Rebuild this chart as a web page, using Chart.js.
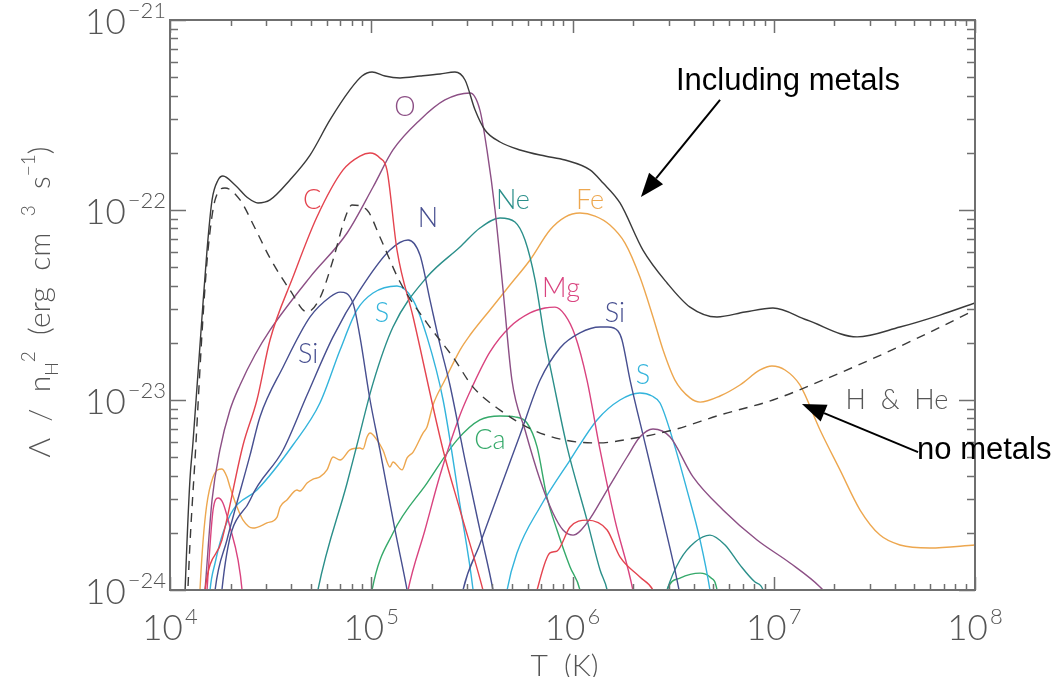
<!DOCTYPE html>
<html>
<head>
<meta charset="utf-8">
<script src="https://cdn.jsdelivr.net/npm/chart.js@4.4.1/dist/chart.umd.min.js"></script>
<style>
  html, body { margin: 0; padding: 0; background: #fff; }
  canvas { display: block; }
</style>
</head>
<body>
<canvas id="cooling" width="1057" height="677"></canvas>
<script>
// ── cooling rates, log10 T (K) against log10 Λ/nH² (erg cm³ s⁻¹) ──

const TOT_T = [4.065, 4.075, 4.099, 4.114, 4.159, 4.184, 4.209, 4.239, 4.263, 4.323, 4.388, 4.437, 4.497, 4.596, 4.696, 4.795, 4.894, 4.954, 5.004, 5.068, 5.143, 5.242, 5.342, 5.416, 5.466, 5.516, 5.565, 5.640, 5.739, 5.863, 5.963, 6.087, 6.152, 6.236, 6.350, 6.470, 6.584, 6.718, 6.857, 6.996, 7.165, 7.414, 7.627, 7.826, 8.0];
const TOT_L = [-24.316, -24.0, -23.421, -23.226, -22.563, -22.211, -21.947, -21.842, -21.821, -21.868, -21.937, -21.963, -21.947, -21.842, -21.711, -21.526, -21.368, -21.295, -21.274, -21.295, -21.305, -21.295, -21.284, -21.274, -21.316, -21.474, -21.579, -21.642, -21.684, -21.716, -21.737, -21.789, -21.858, -21.963, -22.211, -22.384, -22.511, -22.563, -22.537, -22.516, -22.579, -22.668, -22.616, -22.553, -22.489];

const HHE_T = [4.080, 4.089, 4.129, 4.164, 4.189, 4.224, 4.273, 4.348, 4.422, 4.497, 4.596, 4.681, 4.745, 4.810, 4.870, 4.904, 4.979, 5.043, 5.143, 5.277, 5.406, 5.506, 5.640, 5.804, 5.963, 6.122, 6.311, 6.499, 6.733, 6.996, 7.245, 7.478, 7.727, 8.0];
const HHE_L = [-24.316, -24.0, -23.226, -22.563, -22.211, -21.947, -21.884, -21.947, -22.095, -22.253, -22.421, -22.537, -22.463, -22.263, -22.042, -21.974, -22.0, -22.142, -22.379, -22.595, -22.774, -22.932, -23.053, -23.158, -23.211, -23.226, -23.2, -23.158, -23.079, -23.0, -22.895, -22.789, -22.668, -22.526];

const C_T = [4.149, 4.174, 4.258, 4.363, 4.432, 4.497, 4.611, 4.730, 4.860, 4.944, 4.994, 5.043, 5.078, 5.128, 5.208, 5.357, 5.441, 5.555, 5.590];
const C_L = [-24.316, -24.0, -23.737, -23.237, -23.0, -22.684, -22.353, -22.037, -21.789, -21.716, -21.700, -21.726, -21.789, -22.211, -22.563, -23.263, -23.579, -24.0, -24.158];
const C_HI_T = [5.789, 5.824, 5.888, 5.923, 5.988, 6.072, 6.172, 6.236, 6.335, 6.400, 6.435];
const C_HI_L = [-24.158, -24.0, -23.805, -23.795, -23.668, -23.632, -23.684, -23.826, -23.932, -24.0, -24.105];

const O_T = [4.149, 4.174, 4.209, 4.248, 4.298, 4.348, 4.422, 4.497, 4.696, 4.880, 5.009, 5.108, 5.242, 5.366, 5.491, 5.540, 5.575, 5.615, 5.655, 5.699, 5.764, 5.839, 5.903, 5.953, 6.003, 6.072, 6.172, 6.271, 6.335, 6.400, 6.485, 6.599, 6.748, 6.917, 7.081, 7.230, 7.329];
const O_L = [-24.316, -24.0, -23.526, -23.263, -23.053, -22.921, -22.763, -22.632, -22.353, -22.121, -21.879, -21.684, -21.526, -21.421, -21.384, -21.474, -21.684, -22.0, -22.421, -22.895, -23.158, -23.421, -23.595, -23.684, -23.711, -23.647, -23.474, -23.3, -23.195, -23.153, -23.195, -23.405, -23.579, -23.737, -23.858, -23.984, -24.105];

const N_T = [4.239, 4.258, 4.398, 4.562, 4.681, 4.810, 4.944, 5.093, 5.183, 5.242, 5.292, 5.342, 5.391, 5.466, 5.540, 5.605, 5.630];
const N_L = [-24.316, -24.0, -23.526, -23.263, -22.974, -22.668, -22.421, -22.211, -22.158, -22.237, -22.474, -22.711, -22.921, -23.316, -23.684, -24.0, -24.158];

const SI_LO_T = [4.199, 4.224, 4.283, 4.398, 4.447, 4.562, 4.696, 4.795, 4.845, 4.909, 4.944, 4.994, 5.043, 5.118, 5.178, 5.203];
const SI_LO_L = [-24.316, -24.0, -23.737, -23.289, -23.089, -22.826, -22.563, -22.458, -22.432, -22.489, -22.668, -23.0, -23.263, -23.684, -24.0, -24.158];
const SI_HI_T = [5.431, 5.456, 5.540, 5.640, 5.739, 5.839, 5.938, 6.037, 6.137, 6.176, 6.226, 6.246, 6.286, 6.360, 6.435, 6.509, 6.559];
const SI_HI_L = [-24.158, -24.0, -23.758, -23.468, -23.184, -22.895, -22.726, -22.647, -22.616, -22.616, -22.637, -22.684, -22.895, -23.226, -23.558, -23.895, -24.158];

const NE_T = [4.711, 4.735, 4.880, 4.929, 5.009, 5.108, 5.277, 5.441, 5.540, 5.640, 5.714, 5.764, 5.814, 5.863, 5.903, 5.973, 6.072, 6.137, 6.172, 6.196];
const NE_L = [-24.158, -24.0, -23.437, -23.237, -22.911, -22.616, -22.353, -22.195, -22.095, -22.042, -22.063, -22.158, -22.368, -22.684, -22.895, -23.247, -23.632, -23.895, -24.0, -24.158];
const NE_HI_T = [6.435, 6.470, 6.534, 6.609, 6.683, 6.758, 6.832, 6.907, 6.947, 6.971];
const NE_HI_L = [-24.158, -24.0, -23.842, -23.747, -23.711, -23.763, -23.868, -23.958, -24.0, -24.158];

const FE_T = [4.139, 4.149, 4.214, 4.258, 4.283, 4.298, 4.333, 4.363, 4.412, 4.482, 4.532, 4.547, 4.581, 4.631, 4.646, 4.681, 4.711, 4.745, 4.780, 4.810, 4.845, 4.894, 4.944, 4.959, 4.979, 4.994, 5.029, 5.058, 5.093, 5.108, 5.153, 5.178, 5.208, 5.257, 5.277, 5.307, 5.366, 5.441, 5.491, 5.590, 5.689, 5.789, 5.888, 5.963, 6.037, 6.112, 6.186, 6.261, 6.335, 6.400, 6.450, 6.509, 6.584, 6.634, 6.733, 6.832, 6.932, 6.991, 7.056, 7.130, 7.230, 7.329, 7.429, 7.528, 7.627, 7.776, 8.0];
const FE_L = [-24.316, -24.0, -23.405, -23.363, -23.405, -23.458, -23.563, -23.632, -23.674, -23.647, -23.616, -23.563, -23.526, -23.474, -23.479, -23.437, -23.416, -23.405, -23.368, -23.3, -23.316, -23.263, -23.253, -23.258, -23.195, -23.174, -23.211, -23.263, -23.353, -23.326, -23.368, -23.305, -23.274, -23.174, -23.142, -23.026, -22.895, -22.737, -22.658, -22.526, -22.395, -22.263, -22.105, -22.037, -22.016, -22.032, -22.079, -22.174, -22.353, -22.563, -22.737, -22.895, -22.989, -23.011, -22.979, -22.921, -22.842, -22.821, -22.842, -22.921, -23.158, -23.368, -23.579, -23.711, -23.763, -23.779, -23.763];

const MG_T = [5.158, 5.183, 5.267, 5.342, 5.441, 5.506, 5.590, 5.689, 5.789, 5.863, 5.913, 5.963, 6.012, 6.072, 6.137, 6.211, 6.300, 6.325];
const MG_L = [-24.158, -24.0, -23.684, -23.395, -23.079, -22.921, -22.747, -22.616, -22.542, -22.516, -22.511, -22.553, -22.658, -22.895, -23.263, -23.632, -24.0, -24.158];
const MG_LO_T = [4.174, 4.184, 4.214, 4.239, 4.263, 4.298, 4.338, 4.358, 4.368];
const MG_LO_L = [-24.158, -24.0, -23.579, -23.516, -23.542, -23.668, -23.842, -24.0, -24.158];

const S_LO_T = [4.189, 4.199, 4.224, 4.263, 4.313, 4.432, 4.611, 4.745, 4.845, 4.929, 5.009, 5.128, 5.208, 5.277, 5.357, 5.441, 5.506, 5.521];
const S_LO_L = [-24.158, -24.0, -23.858, -23.700, -23.579, -23.474, -23.237, -23.016, -22.737, -22.526, -22.437, -22.400, -22.474, -22.668, -23.0, -23.553, -24.0, -24.158];
const S_HI_T = [5.655, 5.675, 5.724, 5.839, 5.988, 6.122, 6.236, 6.335, 6.395, 6.435, 6.499, 6.569, 6.634, 6.683, 6.703];
const S_HI_L = [-24.158, -24.0, -23.805, -23.563, -23.316, -23.105, -23.0, -22.963, -22.979, -23.016, -23.211, -23.474, -23.737, -24.0, -24.158];

const CA_T = [4.984, 5.004, 5.108, 5.277, 5.426, 5.540, 5.640, 5.714, 5.774, 5.824, 5.873, 5.923, 5.988, 6.037, 6.062];
const CA_L = [-24.158, -24.0, -23.700, -23.437, -23.211, -23.105, -23.084, -23.089, -23.121, -23.247, -23.511, -23.684, -23.879, -24.0, -24.158];
const CA_HI_T = [6.445, 6.470, 6.534, 6.634, 6.683, 6.718, 6.733];
const CA_HI_L = [-24.158, -24.0, -23.937, -23.911, -23.932, -24.0, -24.158];

// axis decades
const X_DECADES = [4, 5, 6, 7, 8];
const Y_DECADES = [-24, -23, -22, -21];

// element names placed next to their curves (log T, log Λ)
const TAGS = ['O', 'C', 'N', 'Ne', 'Fe', 'Mg', 'Si', 'Si', 'S', 'S', 'Ca', 'H  &  He'];
const TAG_T = [5.168, 4.706, 5.282, 5.704, 6.087, 5.943, 6.211, 4.686, 5.053, 6.350, 5.590, 7.612];
const TAG_L = [-21.458, -21.947, -22.042, -21.947, -21.947, -22.411, -22.542, -22.758, -22.542, -22.868, -23.211, -23.0];

// ── colours ──
const INK = '#3a3a3a';
const AXIS = '#6f6f6f';
const TXT = '#555555';
const RED = '#e4444f';
const PURPLE = '#8c4f85';
const NAVY = '#474f90';
const TEAL = '#2b8f8a';
const ORANGE = '#eda74f';
const PINK = '#d9437f';
const CYAN = '#33b4dc';
const GREEN = '#35a96a';
const TAG_COL = [PURPLE, RED, NAVY, TEAL, ORANGE, PINK, NAVY, NAVY, CYAN, CYAN, GREEN, TXT];

const THIN = '"Lato", "Liberation Sans", sans-serif';
const ARIAL = '"Liberation Sans", Arial, sans-serif';

function curve(T, L, color, dash) {
  return {
    data: T.map((t, i) => ({ x: Math.pow(10, t), y: Math.pow(10, L[i]) })),
    borderColor: color,
    borderWidth: 1.4,
    borderDash: dash || [],
    pointRadius: 0,
    fill: false,
    cubicInterpolationMode: 'monotone'
  };
}

// superscript helper: "10" followed by a raised exponent
function power(ctx, exp, x, y, align) {
  ctx.font = '300 35px ' + THIN;
  const wb = ctx.measureText('10').width;
  ctx.font = '300 22px ' + THIN;
  const we = ctx.measureText(exp).width;
  const total = wb + 2 + we;
  let left = align === 'right' ? x - total : x - total / 2;
  ctx.textAlign = 'left';
  ctx.textBaseline = 'alphabetic';
  ctx.font = '300 35px ' + THIN;
  ctx.fillText('10', left, y);
  ctx.font = '300 22px ' + THIN;
  ctx.fillText(exp, left + wb + 2, y - 16);
}

function arrow(ctx, x0, y0, x1, y1) {
  const ang = Math.atan2(y1 - y0, x1 - x0);
  const hl = 24, hw = 9;
  const bx = x1 - hl * Math.cos(ang), by = y1 - hl * Math.sin(ang);
  ctx.beginPath();
  ctx.moveTo(x0, y0);
  ctx.lineTo(bx, by);
  ctx.stroke();
  ctx.beginPath();
  ctx.moveTo(x1, y1);
  ctx.lineTo(bx + hw * Math.sin(ang), by - hw * Math.cos(ang));
  ctx.lineTo(bx - hw * Math.sin(ang), by + hw * Math.cos(ang));
  ctx.closePath();
  ctx.fill();
}

const frame = {
  id: 'frame',
  afterDatasetsDraw(chart) {
    const { ctx, chartArea: a, scales: { x, y } } = chart;
    const px = v => x.getPixelForValue(Math.pow(10, v));
    const py = v => y.getPixelForValue(Math.pow(10, v));
    ctx.save();

    // box
    ctx.strokeStyle = AXIS;
    ctx.lineWidth = 2;
    ctx.strokeRect(a.left, a.top, a.right - a.left, a.bottom - a.top);

    // inward ticks on all four sides
    ctx.lineWidth = 1.5;
    ctx.beginPath();
    X_DECADES.forEach((d, i) => {
      for (let k = 1; k < 10; k++) {
        if (k > 1 && i === X_DECADES.length - 1) break;
        const xp = Math.round(x.getPixelForValue(k * Math.pow(10, d))) + 0.5;
        const len = k === 1 ? 13 : 6;
        ctx.moveTo(xp, a.bottom); ctx.lineTo(xp, a.bottom - len);
        ctx.moveTo(xp, a.top); ctx.lineTo(xp, a.top + len);
      }
    });
    Y_DECADES.forEach((d, i) => {
      for (let k = 1; k < 10; k++) {
        if (k > 1 && i === Y_DECADES.length - 1) break;
        const yp = Math.round(y.getPixelForValue(k * Math.pow(10, d))) + 0.5;
        const len = k === 1 ? 16 : 8;
        ctx.moveTo(a.left, yp); ctx.lineTo(a.left + len, yp);
        ctx.moveTo(a.right, yp); ctx.lineTo(a.right - len, yp);
      }
    });
    ctx.stroke();

    // tick labels
    ctx.fillStyle = TXT;
    X_DECADES.forEach(d => power(ctx, String(d), px(d), a.bottom + 50, 'center'));
    Y_DECADES.forEach(d => power(ctx, '\u2212' + String(-d), a.left - 4, py(d) + 14, 'right'));

    // axis titles
    ctx.textAlign = 'center';
    ctx.textBaseline = 'top';
    ctx.font = '300 30px ' + THIN;
    ctx.fillText('T  (K)', (a.left + a.right) / 2 - 8, a.bottom + 61);

    const parts = [
      ['\u039B  /  n', 30, 0], ['H', 18, 8], ['2', 19, -15], ['  (erg  cm  ', 30, 0],
      ['3', 19, -15], ['  s', 30, 0], ['\u22121', 19, -15], [')', 30, 0]
    ];
    let w = 0;
    parts.forEach(p => { ctx.font = '300 ' + p[1] + 'px ' + THIN; w += ctx.measureText(p[0]).width; });
    ctx.save();
    ctx.translate(50, 302);
    ctx.rotate(-Math.PI / 2);
    ctx.textAlign = 'left';
    ctx.textBaseline = 'alphabetic';
    let cx = -w / 2;
    parts.forEach(p => {
      ctx.font = '300 ' + p[1] + 'px ' + THIN;
      ctx.fillText(p[0], cx, p[2]);
      cx += ctx.measureText(p[0]).width;
    });
    ctx.restore();

    // element names
    ctx.textAlign = 'center';
    ctx.textBaseline = 'middle';
    ctx.font = '300 27px ' + THIN;
    TAGS.forEach((t, i) => {
      ctx.fillStyle = TAG_COL[i];
      ctx.fillText(t, px(TAG_T[i]), py(TAG_L[i]));
    });

    // annotations with arrows
    ctx.fillStyle = '#000';
    ctx.strokeStyle = '#000';
    ctx.lineWidth = 2;
    ctx.font = '31px ' + ARIAL;
    ctx.textAlign = 'left';
    ctx.fillText('Including metals', px(6.514), py(-21.321));
    ctx.fillText('no metals', px(7.712), py(-23.263));
    arrow(ctx, px(6.733), py(-21.421), px(6.340), py(-21.932));
    arrow(ctx, px(7.717), py(-23.274), px(7.140), py(-23.021));

    ctx.restore();
  }
};

new Chart(document.getElementById('cooling'), {
  type: 'line',
  data: {
    datasets: [
      curve(TOT_T, TOT_L, INK),
      curve(HHE_T, HHE_L, INK, [9, 7]),
      curve(C_T, C_L, RED),
      curve(C_HI_T, C_HI_L, RED),
      curve(O_T, O_L, PURPLE),
      curve(N_T, N_L, NAVY),
      curve(SI_LO_T, SI_LO_L, NAVY),
      curve(SI_HI_T, SI_HI_L, NAVY),
      curve(NE_T, NE_L, TEAL),
      curve(NE_HI_T, NE_HI_L, TEAL),
      curve(FE_T, FE_L, ORANGE),
      curve(MG_T, MG_L, PINK),
      curve(MG_LO_T, MG_LO_L, PINK),
      curve(S_LO_T, S_LO_L, CYAN),
      curve(S_HI_T, S_HI_L, CYAN),
      curve(CA_T, CA_L, GREEN),
      curve(CA_HI_T, CA_HI_L, GREEN)
    ]
  },
  options: {
    responsive: false,
    animation: false,
    events: [],
    layout: { padding: { left: 170, right: 82, top: 20, bottom: 87 } },
    plugins: { legend: { display: false }, tooltip: { enabled: false } },
    scales: {
      x: { type: 'logarithmic', min: 1e4, max: 1e8, display: false },
      y: { type: 'logarithmic', min: 1e-24, max: 1e-21, display: false }
    }
  },
  plugins: [frame]
});
</script>
</body>
</html>
